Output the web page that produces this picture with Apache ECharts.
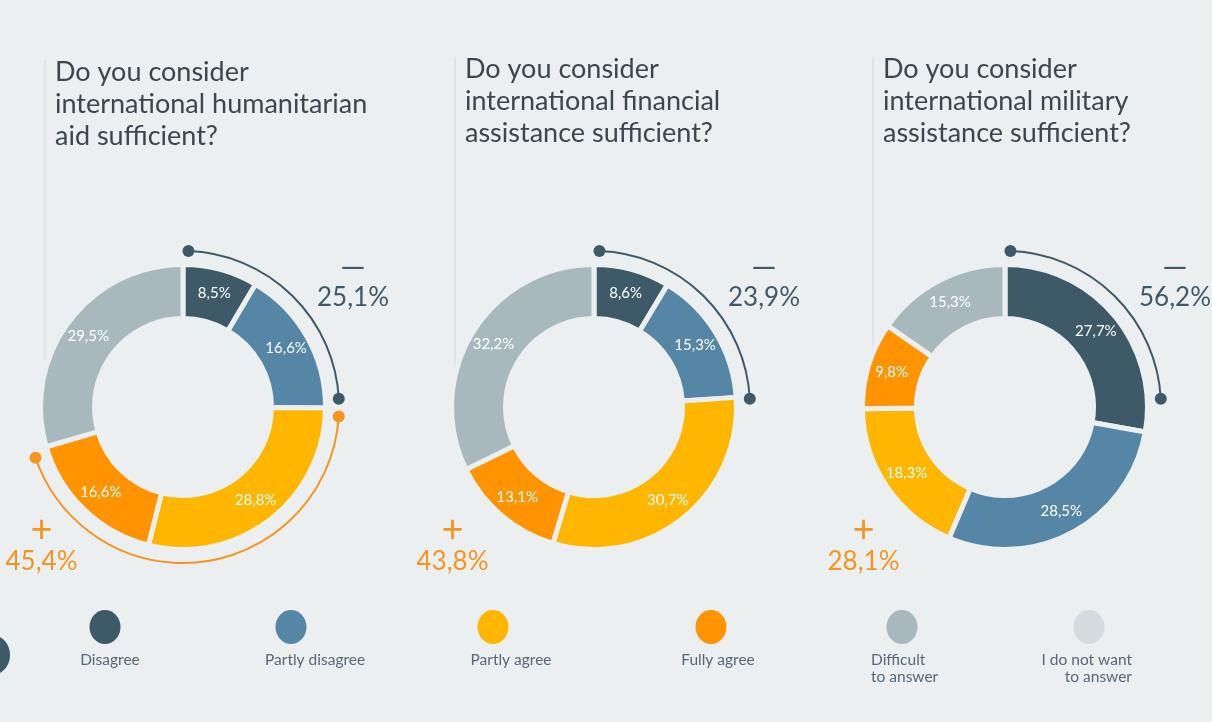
<!DOCTYPE html>
<html>
<head>
<meta charset="utf-8">
<script src="https://cdn.jsdelivr.net/npm/echarts@6/dist/echarts.min.js"></script>
<style>
html,body{margin:0;padding:0;background:#ebeff0;}
#chart{width:1212px;height:722px;}
</style>
</head>
<body>
<div id="chart"></div>
<script>
// ---------- DATA ----------
const categories = ['Disagree', 'Partly disagree', 'Partly agree', 'Fully agree', 'Difficult to answer', 'I do not want to answer'];
const legendLabels = ['Disagree', 'Partly disagree', 'Partly agree', 'Fully agree', 'Difficult\nto answer', 'I do not want\nto answer'];
const titles = [
  'Do you consider\ninternational humanitarian\naid sufficient?',
  'Do you consider\ninternational financial\nassistance sufficient?',
  'Do you consider\ninternational military\nassistance sufficient?'
];
const humanitarianAid = [8.5, 16.6, 28.8, 16.6, 29.5];
const financialAssistance = [8.6, 15.3, 30.7, 13.1, 32.2];
const militaryAssistance = [27.7, 28.5, 18.3, 9.8, 15.3];
const seriesValues = [humanitarianAid, financialAssistance, militaryAssistance];

// ---------- STYLE / LAYOUT ----------
const BG = '#ebeff0';
const colors = ['#3e5a69', '#5686a6', '#ffb600', '#ff9400', '#a8b9bd', '#d4dcdf'];
const NEG = '#3e5a69';
const POS = '#f7941d';
const FONT = 'Lato, "Open Sans", sans-serif';
const centers = [[183, 407], [594, 407], [1005, 407]];
const titlePos = [[55, 56], [465, 53], [883, 53]];
const dividers = [[45, 60, 360], [455, 57, 367], [873, 57, 347]];
const bracketR = 156;
const negArc = [2, 87];            // degrees clockwise from 12 o'clock
const posArc = [93.5, 251];        // only drawn for first donut
const posArcOn = [true, false, false];
const legendCircleX = [105, 291, 493, 711, 902, 1089];
const legendLabelX = [110, 265, 511, 718, 871, 1132];
const legendAlign = ['center', 'left', 'center', 'center', 'left', 'right'];

const fmt = v => v.toFixed(1).replace('.', ',') + '%';

const chart = echarts.init(document.getElementById('chart'), null, {renderer: 'canvas'});

const series = seriesValues.map((vals, i) => ({
  type: 'pie',
  center: centers[i],
  radius: [88.5, 142.5],
  startAngle: 90,
  clockwise: true,
  silent: true,
  avoidLabelOverlap: false,
  itemStyle: {borderColor: BG, borderWidth: 5},
  label: {
    show: true, position: 'inside', color: '#ffffff',
    fontFamily: FONT, fontSize: 15,
    formatter: p => fmt(p.value)
  },
  labelLine: {show: false},
  emphasis: {disabled: true},
  data: vals.map((v, k) => ({name: categories[k], value: v, itemStyle: {color: colors[k]}}))
}));

const graphic = [];
const rad = d => (d - 90) * Math.PI / 180;
const pt = (c, r, d) => [c[0] + r * Math.sin(d * Math.PI / 180), c[1] - r * Math.cos(d * Math.PI / 180)];

function bracket(c, range, color) {
  graphic.push({
    type: 'arc', silent: true,
    shape: {cx: c[0], cy: c[1], r: bracketR, startAngle: rad(range[0]), endAngle: rad(range[1]), clockwise: true},
    style: {stroke: color, lineWidth: 2, fill: null}
  });
  range.forEach(d => {
    const p = pt(c, bracketR, d);
    graphic.push({type: 'circle', silent: true, shape: {cx: p[0], cy: p[1], r: 6}, style: {fill: color}});
  });
}

seriesValues.forEach((vals, i) => {
  const c = centers[i];
  const d = dividers[i];
  graphic.push({type: 'line', silent: true, shape: {x1: d[0], y1: d[1], x2: d[0], y2: d[2]}, style: {stroke: '#d3d9dc', lineWidth: 1}});
  graphic.push({type: 'text', silent: true, x: titlePos[i][0], y: titlePos[i][1],
    style: {text: titles[i], font: '27px ' + FONT, fill: '#3a4650', lineHeight: 32}});
  bracket(c, negArc, NEG);
  if (posArcOn[i]) bracket(c, posArc, POS);
  const negTotal = vals[0] + vals[1];
  const posTotal = vals[2] + vals[3];
  graphic.push({type: 'text', silent: true, x: c[0] + 170, y: 268,
    style: {text: '—', font: '32px ' + FONT, fill: NEG, align: 'center', verticalAlign: 'middle'}});
  graphic.push({type: 'text', silent: true, x: c[0] + 170, y: 298,
    style: {text: fmt(negTotal), font: '26px ' + FONT, fill: NEG, align: 'center', verticalAlign: 'middle'}});
  graphic.push({type: 'text', silent: true, x: c[0] - 141.5, y: 530,
    style: {text: '+', font: '38px ' + FONT, fill: POS, align: 'center', verticalAlign: 'middle'}});
  graphic.push({type: 'text', silent: true, x: c[0] - 141.5, y: 562,
    style: {text: fmt(posTotal), font: '26px ' + FONT, fill: POS, align: 'center', verticalAlign: 'middle'}});
});

// legend
graphic.push({type: 'ellipse', silent: true, shape: {cx: -8, cy: 655, rx: 18, ry: 20}, style: {fill: colors[0]}});
categories.forEach((name, k) => {
  graphic.push({type: 'ellipse', silent: true, shape: {cx: legendCircleX[k], cy: 627, rx: 15.5, ry: 17}, style: {fill: colors[k]}});
  graphic.push({type: 'text', silent: true, x: legendLabelX[k], y: 651,
    style: {text: legendLabels[k], font: '15.5px ' + FONT, fill: '#56677a', align: legendAlign[k], verticalAlign: 'top', lineHeight: 17}});
});

chart.setOption({
  backgroundColor: BG,
  animation: false,
  series: series,
  graphic: graphic
});
</script>
</body>
</html>
